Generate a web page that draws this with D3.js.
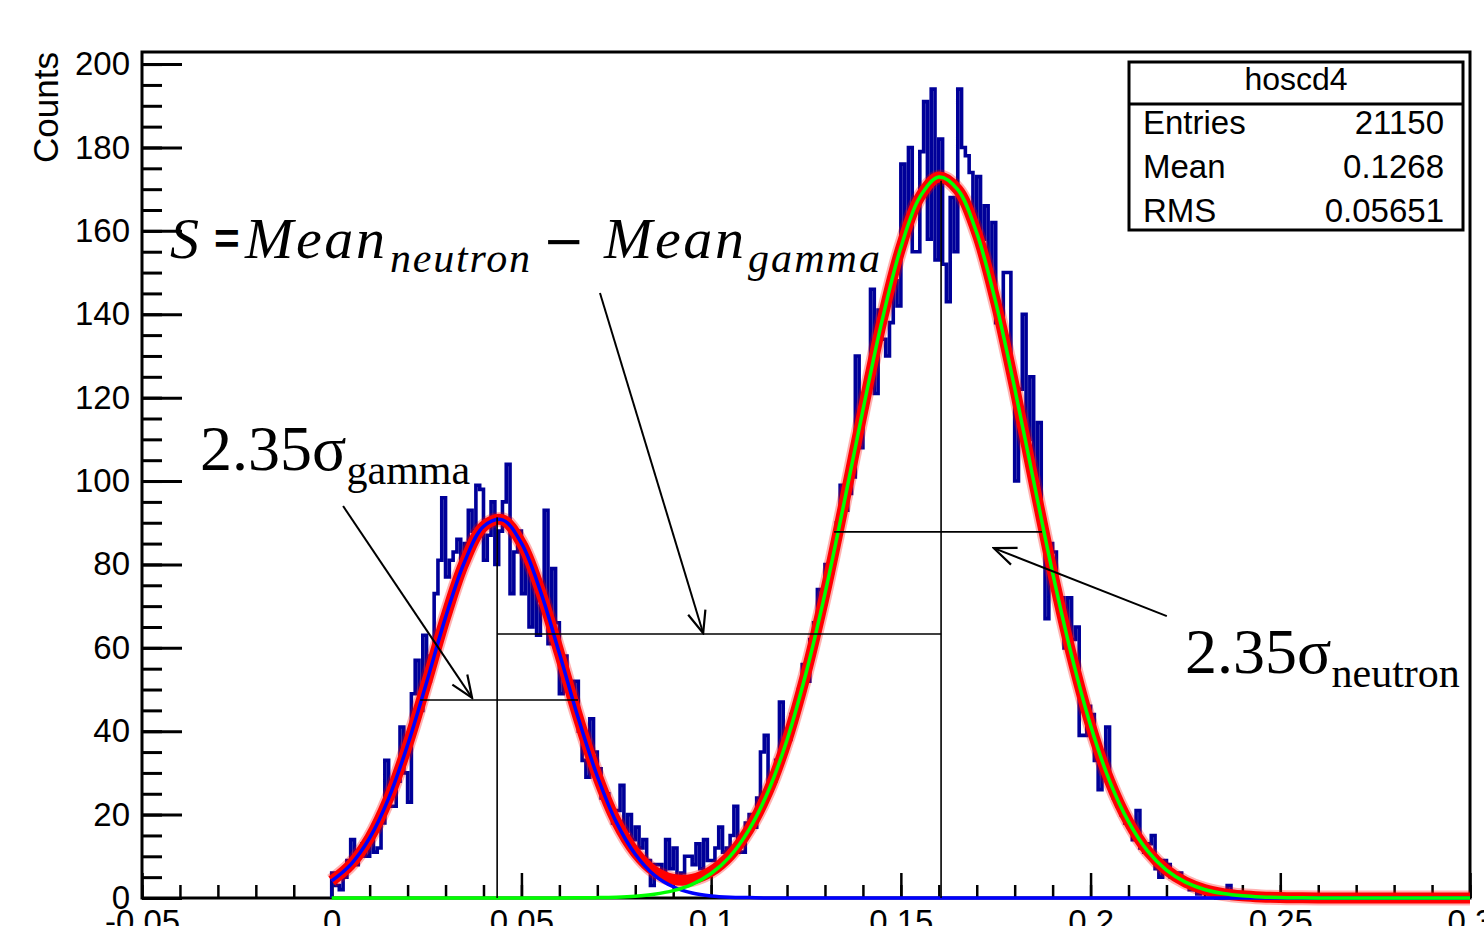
<!DOCTYPE html>
<html>
<head>
<meta charset="utf-8">
<script src="https://cdn.jsdelivr.net/npm/d3@7"></script>
<style>
  body { margin: 0; background: #fff; }
  text { font-family: "Liberation Sans", Arial, sans-serif; fill: #000; }
  .serif { font-family: "Liberation Serif", "Times New Roman", serif; }
</style>
</head>
<body>
<div id="chart"></div>
<script>

// histogram hoscd4 : bins of 0.001 starting at 0
const binStart = 0
const binWidth = 0.001
const counts = [
    6, 3, 2, 5, 9, 14, 8, 10, 13, 10,
    15, 11, 12, 18, 33, 22, 22, 28, 41, 30,
    23, 49, 57, 45, 63, 52, 58, 73, 81, 96,
    77, 81, 83, 86, 79, 85, 93, 88, 99, 98,
    81, 87, 95, 80, 88, 95, 104, 73, 83, 88,
    73, 81, 65, 77, 63, 70, 93, 61, 79, 66,
    49, 58, 52, 48, 52, 40, 33, 29, 43, 35,
    31, 24, 25, 22, 18, 21, 27, 16, 20, 14,
    17, 12, 14, 9, 3, 8, 8, 6, 14, 7,
    12, 5, 6, 10, 10, 8, 13, 7, 14, 9,
    9, 12, 17, 11, 12, 15, 22, 11, 11, 18,
    20, 17, 24, 35, 39, 27, 28, 33, 47, 36,
    38, 44, 45, 50, 56, 52, 62, 66, 74, 70,
    80, 78, 83, 90, 99, 93, 97, 101, 130, 108,
    121, 125, 146, 121, 141, 134, 130, 138, 148, 142,
    176, 160, 180, 155, 155, 179, 191, 158, 194, 153,
    182, 152, 143, 168, 155, 194, 180, 178, 174, 160,
    173, 158, 166, 150, 162, 138, 138, 150, 150, 124,
    100, 122, 140, 110, 125, 100, 114, 90, 67, 85,
    83, 72, 72, 60, 72, 62, 65, 39, 39, 46,
    44, 33, 26, 31, 41, 27, 24, 22, 20, 18,
    17, 14, 21, 12, 11, 13, 15, 7, 5, 9,
    8, 5, 5, 6, 4, 3, 2, 3, 1, 2,
    2, 1, 1, 0, 1, 0, 3, 0, 1, 0,
    0, 1, 1, 0, 0, 0, 0, 0, 0, 0
]

// fitted components, one value every 0.005 from 0 to 0.3
const fitStep = 0.005
const gammaFit = [
    4.1, 8.0, 14.4, 23.9, 36.7, 51.7, 67.3, 80.6, 89.1, 90.7,
    85.1, 73.6, 58.7, 43.1, 29.2, 18.2, 10.5, 5.5, 2.7, 1.2,
    0.5, 0.2, 0.1, 0, 0, 0, 0, 0, 0, 0,
    0, 0, 0, 0, 0, 0, 0, 0, 0, 0,
    0, 0, 0, 0, 0, 0, 0, 0, 0, 0,
    0, 0, 0, 0, 0, 0, 0, 0, 0, 0, 0
]
const neutronFit = [
    0, 0, 0, 0, 0, 0, 0, 0, 0, 0,
    0, 0, 0, 0.04, 0.09, 0.2, 0.44, 0.9, 1.76, 3.29,
    5.88, 10.0, 16.4, 25.5, 37.9, 53.9, 73.0, 94.6, 117.0, 138.3,
    156.0, 168.1, 172.9, 169.9, 159.5, 142.9, 122.3, 100.0, 78.0, 58.2,
    41.4, 28.1, 18.3, 11.3, 6.7, 3.8, 2.05, 1.06, 0.52, 0.24,
    0.11, 0.05, 0, 0, 0, 0, 0, 0, 0, 0, 0
]

const xMajor = [-0.05, 0, 0.05, 0.1, 0.15, 0.2, 0.25, 0.3]
const xLabels = ["-0.05", "0", "0.05", "0.1", "0.15", "0.2", "0.25", "0.3"]
const yMajor = [0, 20, 40, 60, 80, 100, 120, 140, 160, 180, 200]

const statsTitle = "hoscd4"
const statsNames = ["Entries", "Mean", "RMS"]
const statsValues = ["21150", "0.1268", "0.05651"]

// mean / FWHM markers and arrows, in data units
const meanGamma = 0.0436, peakGamma = 91.3
const meanNeutron = 0.1606, peakNeutron = 172
const fwhmGamma = {y: 47.5, x0: 0.0233, x1: 0.0649}
const fwhmNeutron = {y: 87.8, x0: 0.1324, x1: 0.1872}
const sepLevel = 63.3
const arrows = [
    {from: [0.0030, 94.0], to: [0.0370, 48.0]},
    {from: [0.0707, 145.1], to: [0.0979, 63.5]},
    {from: [0.2201, 67.6], to: [0.1745, 83.9]}
]

const W = 1484, H = 926
const frame = {left: 142, right: 1470, top: 52, bottom: 898}

const svg = d3.select("#chart").append("svg")
    .attr("width", W)
    .attr("height", H)
svg.append("rect").attr("width", W).attr("height", H).attr("fill", "#fff")

const x = d3.scaleLinear().domain([-0.05, 0.3]).range([frame.left, frame.right])
const y = d3.scaleLinear().domain([0, 202.9]).range([frame.bottom, frame.top])

// minor ticks
svg.append("g")
    .attr("transform", `translate(0,${frame.bottom})`)
    .call(d3.axisBottom(x).tickValues(d3.range(-50, 301, 10).map(d => d / 1000)).tickSize(-13).tickFormat(""))
    .call(g => g.select(".domain").remove())
    .call(g => g.selectAll("line").attr("stroke-width", 2.5))
svg.append("g")
    .attr("transform", `translate(${frame.left},0)`)
    .call(d3.axisLeft(y).tickValues(d3.range(0, 201, 5)).tickSize(-20).tickFormat(""))
    .call(g => g.select(".domain").remove())
    .call(g => g.selectAll("line").attr("stroke-width", 3))

// major ticks + labels
svg.append("g")
    .attr("transform", `translate(0,${frame.bottom})`)
    .call(d3.axisBottom(x).tickValues(xMajor).tickSize(-25).tickPadding(12)
        .tickFormat((d, i) => xLabels[i]))
    .call(g => g.select(".domain").remove())
    .call(g => g.selectAll("line").attr("stroke-width", 2.5))
    .call(g => g.selectAll("text").attr("font-size", 33).attr("font-family", "Liberation Sans, Arial, sans-serif"))
svg.append("g")
    .attr("transform", `translate(${frame.left},0)`)
    .call(d3.axisLeft(y).tickValues(yMajor).tickSize(-40).tickPadding(12))
    .call(g => g.select(".domain").remove())
    .call(g => g.selectAll("line").attr("stroke-width", 3))
    .call(g => g.selectAll("text").attr("font-size", 33).attr("font-family", "Liberation Sans, Arial, sans-serif"))

// frame
svg.append("rect")
    .attr("x", frame.left).attr("y", frame.top)
    .attr("width", frame.right - frame.left).attr("height", frame.bottom - frame.top)
    .attr("fill", "none").attr("stroke", "#000").attr("stroke-width", 3)

svg.append("text")
    .attr("transform", `translate(58,${frame.top}) rotate(-90)`)
    .attr("text-anchor", "end")
    .attr("font-size", 35)
    .text("Counts")

// histogram outline
const histPts = [[binStart, 0]]
counts.forEach((c, i) => {
    histPts.push([binStart + i * binWidth, c])
    histPts.push([binStart + (i + 1) * binWidth, c])
})
histPts.push([binStart + counts.length * binWidth, 0])
histPts.push([0.3, 0])

const line = d3.line().x(d => x(d[0])).y(d => y(d[1]))
svg.append("path")
    .datum(histPts)
    .attr("d", line)
    .attr("fill", "none")
    .attr("stroke", "#000099")
    .attr("stroke-width", 3.6)
    .attr("stroke-linejoin", "miter")

// fits
const fitLine = d3.line()
    .x((d, i) => x(i * fitStep))
    .y(d => y(d))
    .curve(d3.curveCatmullRom)
const totalFit = gammaFit.map((g, i) => g + neutronFit[i])

svg.append("path").datum(totalFit).attr("d", fitLine)
    .attr("fill", "none").attr("stroke", "#ff0000").attr("stroke-opacity", 0.3).attr("stroke-width", 15)
svg.append("path").datum(totalFit).attr("d", fitLine)
    .attr("fill", "none").attr("stroke", "#ff0000").attr("stroke-width", 11)
svg.append("path").datum(gammaFit).attr("d", fitLine)
    .attr("fill", "none").attr("stroke", "#0000ff").attr("stroke-width", 3.5)
svg.append("path").datum(neutronFit).attr("d", fitLine)
    .attr("fill", "none").attr("stroke", "#00ff00").attr("stroke-width", 3.5)

// markers
const marks = svg.append("g").attr("stroke", "#000").attr("stroke-width", 1.6)
marks.append("line")
    .attr("x1", x(meanGamma)).attr("x2", x(meanGamma))
    .attr("y1", y(peakGamma)).attr("y2", y(0))
marks.append("line")
    .attr("x1", x(meanNeutron)).attr("x2", x(meanNeutron))
    .attr("y1", y(peakNeutron)).attr("y2", y(0))
marks.append("line")
    .attr("x1", x(fwhmGamma.x0)).attr("x2", x(fwhmGamma.x1))
    .attr("y1", y(fwhmGamma.y)).attr("y2", y(fwhmGamma.y))
marks.append("line")
    .attr("x1", x(fwhmNeutron.x0)).attr("x2", x(fwhmNeutron.x1))
    .attr("y1", y(fwhmNeutron.y)).attr("y2", y(fwhmNeutron.y))
marks.append("line")
    .attr("x1", x(meanGamma)).attr("x2", x(meanNeutron))
    .attr("y1", y(sepLevel)).attr("y2", y(sepLevel))

// arrows with open heads
svg.append("defs").append("marker")
    .attr("id", "head")
    .attr("viewBox", "-24 -11 26 22")
    .attr("refX", 0).attr("refY", 0)
    .attr("markerWidth", 26).attr("markerHeight", 22)
    .attr("markerUnits", "userSpaceOnUse")
    .attr("orient", "auto")
  .append("path")
    .attr("d", "M-22,-9L0,0L-22,9")
    .attr("fill", "none").attr("stroke", "#000").attr("stroke-width", 2.2)

svg.append("g").selectAll("line")
    .data(arrows)
    .join("line")
    .attr("x1", d => x(d.from[0])).attr("y1", d => y(d.from[1]))
    .attr("x2", d => x(d.to[0])).attr("y2", d => y(d.to[1]))
    .attr("stroke", "#000").attr("stroke-width", 2)
    .attr("marker-end", "url(#head)")

// annotation texts
const sText = svg.append("text").attr("class", "serif").attr("y", 258).attr("font-size", 58)
sText.append("tspan").attr("x", 170).attr("font-style", "italic").text("S")
sText.append("tspan").attr("x", 214).attr("dy", -4).attr("font-size", 44)
    .attr("font-family", "Liberation Sans, Arial, sans-serif").attr("font-weight", "bold").text("=")
sText.append("tspan").attr("x", 245).attr("dy", 4).attr("font-style", "italic").attr("textLength", 140).text("Mean")
sText.append("tspan").attr("x", 390).attr("dy", 14).attr("font-size", 42).attr("font-style", "italic")
    .attr("textLength", 140).text("neutron")
sText.append("tspan").attr("x", 543).attr("dy", -14).attr("font-size", 50)
    .attr("font-family", "DejaVu Sans, sans-serif").text("\u2212")
sText.append("tspan").attr("x", 604).attr("font-style", "italic").attr("textLength", 140).text("Mean")
sText.append("tspan").attr("x", 748).attr("dy", 14).attr("font-size", 42).attr("font-style", "italic")
    .attr("textLength", 132).text("gamma")

const gText = svg.append("text").attr("class", "serif").attr("y", 470).attr("font-size", 64)
gText.append("tspan").attr("x", 200).text("2.35\u03c3")
gText.append("tspan").attr("dy", 14).attr("font-size", 42).text("gamma")

const nText = svg.append("text").attr("class", "serif").attr("y", 673).attr("font-size", 64)
nText.append("tspan").attr("x", 1185).text("2.35\u03c3")
nText.append("tspan").attr("dy", 14).attr("font-size", 42).text("neutron")

// stats box
const box = {x0: 1129, x1: 1463, y0: 62, y1: 230, sep: 104}
svg.append("rect")
    .attr("x", box.x0).attr("y", box.y0)
    .attr("width", box.x1 - box.x0).attr("height", box.y1 - box.y0)
    .attr("fill", "#fff").attr("stroke", "#000").attr("stroke-width", 3)
svg.append("line")
    .attr("x1", box.x0).attr("x2", box.x1).attr("y1", box.sep).attr("y2", box.sep)
    .attr("stroke", "#000").attr("stroke-width", 3)
svg.append("text")
    .attr("x", (box.x0 + box.x1) / 2).attr("y", 90)
    .attr("text-anchor", "middle").attr("font-size", 32)
    .text(statsTitle)
statsNames.forEach((name, i) => {
    svg.append("text").attr("x", 1143).attr("y", 134 + i * 44).attr("font-size", 33).text(name)
    svg.append("text").attr("x", 1444).attr("y", 134 + i * 44).attr("font-size", 33)
        .attr("text-anchor", "end").text(statsValues[i])
})

</script>
</body>
</html>
